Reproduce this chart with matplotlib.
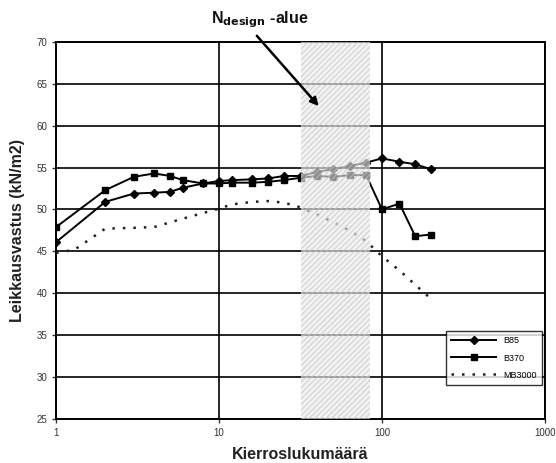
import matplotlib.pyplot as plt
from matplotlib.ticker import FixedLocator, NullLocator

plt.rcParams['font.family'] = ['Liberation Sans', 'DejaVu Sans']

# Kierrosluku ja leikkausvastus (kN/m2)
n_b85 = [1, 2, 3, 4, 5, 6, 8, 10, 12, 16, 20, 25, 32, 40, 50, 64, 80, 100, 128, 160, 200]
t_b85 = [46.1, 50.9, 51.9, 52.0, 52.1, 52.6, 53.1, 53.4, 53.5, 53.6, 53.7, 54.0, 54.0,
         54.5, 54.8, 55.2, 55.6, 56.1, 55.7, 55.4, 54.8]

n_b370 = [1, 2, 3, 4, 5, 6, 8, 10, 12, 16, 20, 25, 32, 40, 50, 64, 80, 100, 128, 160, 200]
t_b370 = [47.9, 52.3, 53.9, 54.3, 54.0, 53.5, 53.1, 53.1, 53.2, 53.2, 53.3, 53.5, 53.8,
          54.0, 53.9, 54.1, 54.1, 50.0, 50.7, 46.8, 47.0]

n_mb3000 = [1, 1.3, 2, 3, 4, 6, 10, 12, 16, 20, 25, 30, 40, 50, 63, 80, 100, 130, 160, 195]
t_mb3000 = [44.8, 45.2, 47.7, 47.8, 47.9, 48.9, 50.1, 50.6, 50.9, 51.0, 50.8, 50.4, 49.4,
            48.5, 47.5, 46.2, 44.4, 42.6, 41.0, 39.5]

design_range = (32, 85)
y_ticks = [25, 30, 35, 40, 45, 50, 55, 60, 65, 70]
x_ticks = [1, 10, 100, 1000]

fig = plt.figure(figsize=(5.56, 4.63), dpi=100)
ax = fig.add_axes([0.101, 0.096, 0.879, 0.813])

ax.set_xscale('log')
ax.set_xlim(1, 1000)
ax.set_ylim(25, 70)

ax.yaxis.set_major_locator(FixedLocator(y_ticks))
ax.xaxis.set_major_locator(FixedLocator(x_ticks))
ax.xaxis.set_minor_locator(NullLocator())
ax.set_xticklabels([str(v) for v in x_ticks])
ax.tick_params(labelsize=7, colors='#333333', length=3, width=1)

ax.grid(True, which='major', color='black', linewidth=1.2, zorder=1)
for s in ax.spines.values():
    s.set_linewidth(1.4)

ax.plot(n_b85, t_b85, color='black', lw=1.4, marker='D', ms=4, label='B85', zorder=3)
ax.plot(n_b370, t_b370, color='black', lw=1.4, marker='s', ms=5, label='B370', zorder=3)
ax.plot(n_mb3000, t_mb3000, color='#222222', lw=1.8, linestyle=(0, (1, 3.2)),
        label='MB3000', zorder=3)

# N_design -alue varjostettuna
ax.axvspan(*design_range, facecolor='#ececec', edgecolor='#c4c4c4', hatch='//////',
           lw=0, alpha=0.6, zorder=5)

ax.annotate('', xy=(42, 62.1), xytext=(255 / 556, 1 - 33.7 / 463),
            xycoords='data', textcoords='figure fraction',
            arrowprops=dict(arrowstyle='-|>', color='black', lw=1.8,
                            mutation_scale=12), zorder=6)
fig.text(260 / 556, 1 - 20 / 463, r'N$_{\mathbf{design}}$ -alue', ha='center', va='center',
         fontsize=11.5, fontweight='bold', color='#111111')

ax.set_xlabel('Kierroslukumäärä', fontsize=11.5, fontweight='bold', labelpad=7,
              color='#222222')
ax.set_ylabel('Leikkausvastus (kN/m2)', fontsize=11.5, fontweight='bold', labelpad=8,
              color='#222222')

leg = ax.legend(loc='lower right', bbox_to_anchor=(0.995, 0.089), fontsize=6.5,
                frameon=True, fancybox=False, edgecolor='black', borderaxespad=0,
                handlelength=5, labelspacing=0.9, borderpad=0.6)
leg.get_frame().set_linewidth(1.0)
leg.set_zorder(7)

fig.savefig('out.png', dpi=100)
